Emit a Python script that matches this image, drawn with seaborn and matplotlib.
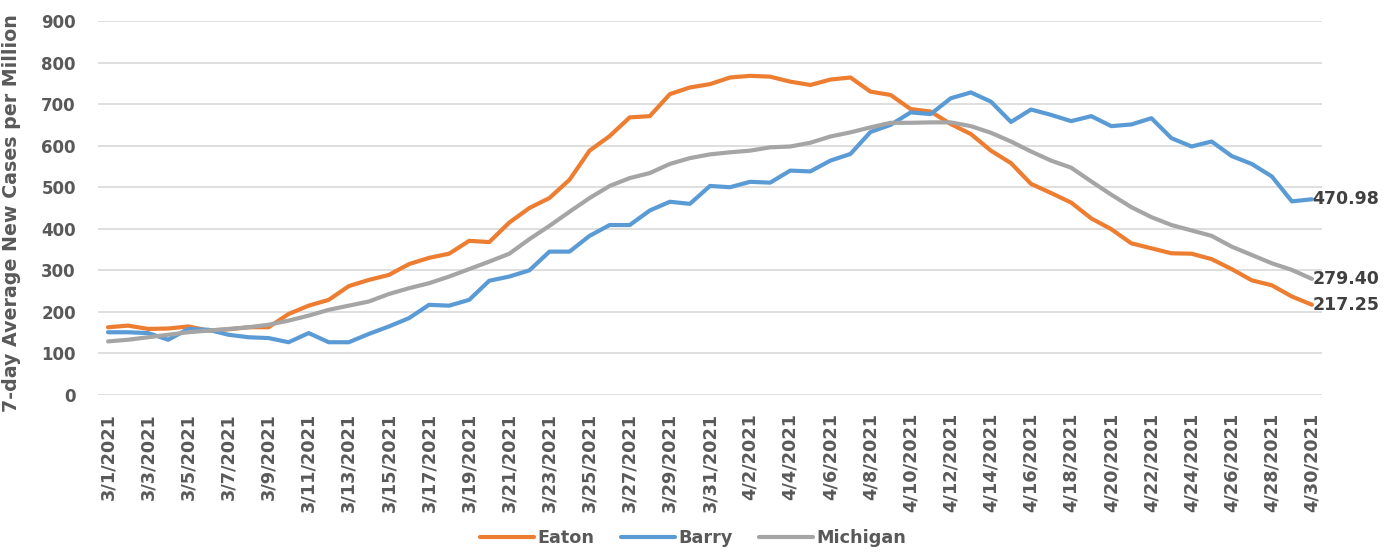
import pandas as pd
import matplotlib.pyplot as plt
import seaborn as sns

# dates 3/1/2021 .. 4/30/2021
dates = pd.date_range("2021-03-01", "2021-04-30", freq="D")
date_labels = [f"{d.month}/{d.day}/{d.year}" for d in dates]

eaton = [163, 167, 159, 160, 165, 155, 158, 163, 163, 195, 215, 229, 262, 277, 289, 315,
         330, 340, 371, 368, 415, 450, 474, 518, 588, 623, 668, 671, 724, 740, 748, 764,
         768, 766, 754, 746, 759, 764, 730, 722, 688, 682, 652, 628, 588, 558, 508, 486,
         463, 425, 399, 365, 353, 341, 340, 327, 303, 276, 264, 237, 217.25]
barry = [151, 151, 149, 133, 159, 157, 145, 139, 137, 127, 149, 127, 127, 147, 165, 185,
         217, 215, 229, 275, 285, 300, 345, 345, 383, 409, 409, 444, 465, 460, 503, 500,
         513, 511, 540, 538, 564, 580, 633, 650, 680, 676, 714, 728, 706, 657, 687, 674,
         659, 671, 647, 651, 666, 618, 598, 610, 575, 556, 526, 466, 470.98]
michigan = [129, 133, 139, 145, 151, 155, 159, 163, 169, 179, 191, 205, 215, 225, 243, 257,
            269, 285, 303, 321, 340, 375, 407, 441, 474, 503, 522, 534, 556, 570, 579, 584,
            588, 596, 598, 607, 622, 632, 644, 655, 655, 656, 656, 647, 631, 610, 586, 564,
            547, 514, 482, 452, 428, 409, 396, 383, 357, 337, 317, 301, 279.40]

series_names = ["Eaton", "Barry", "Michigan"]
series_colors = ["#ED7D31", "#5B9BD5", "#A5A5A5"]

df = pd.DataFrame({"idx": range(len(dates)), "Eaton": eaton, "Barry": barry, "Michigan": michigan})
long = df.melt(id_vars="idx", var_name="Area", value_name="value")

sns.set_style("white")
plt.rcParams['font.family'] = ['DejaVu Sans']
plt.rcParams['font.weight'] = 'bold'
text_gray = "#595959"

fig = plt.figure(figsize=(13.86, 5.52), dpi=100)
ax = fig.add_axes([0.0707, 0.2844, 0.8831, 0.6776])

sns.lineplot(data=long, x="idx", y="value", hue="Area", hue_order=series_names,
             palette=series_colors, linewidth=3, ax=ax, legend=False)

ax.set_xlim(-0.5, len(dates) - 0.5)
ax.set_ylim(0, 900)
ax.set_yticks(range(0, 901, 100))
ax.set_xticks(range(0, len(dates), 2))
ax.set_xticklabels(date_labels[::2], rotation=90, fontsize=12.8, fontweight="bold", color=text_gray)
ax.tick_params(axis="y", labelsize=12, labelcolor=text_gray, length=0, pad=16)
ax.tick_params(axis="x", length=0, pad=13)
for lbl in ax.get_yticklabels():
    lbl.set_fontweight("bold")
ax.grid(axis="y", color="#D9D9D9", linewidth=1.2)
ax.set_axisbelow(True)
for s in ax.spines.values():
    s.set_visible(False)
ax.set_xlabel("")
ax.set_ylabel("7-day Average New Cases per Million", fontsize=13.7, fontweight="bold",
              color=text_gray)
ax.yaxis.set_label_coords(-0.063, 0.487)

# end-of-line value labels
last = len(dates) - 1
for vals in (eaton, barry, michigan):
    ax.annotate(f"{vals[-1]:.2f}", xy=(last, vals[-1]), xytext=(0.5, 0), textcoords="offset points",
                va="center", ha="left", fontsize=12.5, fontweight="bold", color="#404040",
                annotation_clip=False)

handles = [plt.Line2D([0], [0], color=c, linewidth=3) for c in series_colors]
fig.legend(handles, series_names, loc="center", bbox_to_anchor=(0.5, 1 - 538 / 552), ncol=3,
           frameon=False, prop={"size": 12.7, "weight": "bold"}, labelcolor=text_gray,
           handlelength=3.05, columnspacing=1.5, handletextpad=0.2)

fig.savefig("out.png", dpi=100)
